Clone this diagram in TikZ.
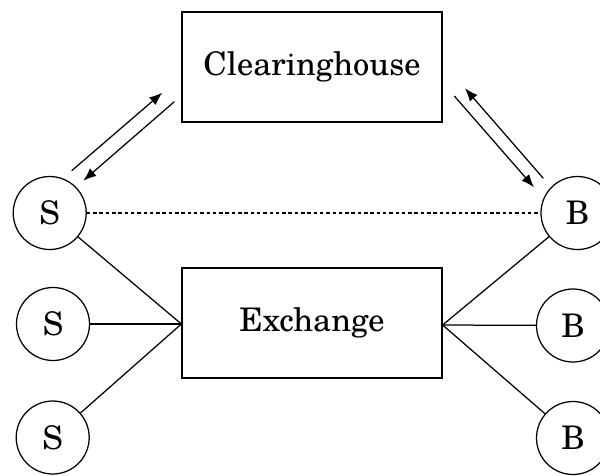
\documentclass[tikz,border=0pt]{standalone}
\usepackage{fontspec}
\setmainfont{TeX Gyre Schola}
\usetikzlibrary{arrows.meta}
\begin{document}
\begin{tikzpicture}[x=1pt,y=-1pt,
  lw/.style={line width=1.25pt},
  boxnode/.style={draw,lw,rectangle,minimum width=260pt,minimum height=110pt,inner sep=0pt,font=\fontsize{32.5}{40}\selectfont},
  party/.style={draw,lw,circle,minimum size=73pt,inner sep=0pt,font=\fontsize{32.5}{40}\selectfont},
  link/.style={lw},
  flow/.style={lw,-{Latex[length=13pt,width=10pt]}},
  peer/.style={lw,dash pattern=on 3.5pt off 2.8pt}]
\useasboundingbox (0,0) rectangle (600,475);
\node[boxnode] (CH) at (312,67) {Clearinghouse};
\node[boxnode] (EX) at (312,323) {Exchange};
\node[party] (S1) at (49.7,213) {S};
\node[party] (S2) at (53,324) {S};
\node[party] (S3) at (52.7,437.5) {S};
\node[party] (B1) at (577.5,213) {B};
\node[party] (B2) at (573,325.5) {B};
\node[party] (B3) at (573,438) {B};
\coordinate (EXw) at ([yshift=-1pt]EX.west);
\coordinate (EXe) at ([yshift=-2pt]EX.east);
\draw[peer] (S1) -- (B1);
\draw[link] (S1) -- (EXw);
\draw[link] (S2) -- (EXw);
\draw[link] (S3) -- (EXw);
\draw[link] (B1) -- (EXe);
\draw[link] (B2) -- (EXe);
\draw[link] (B3) -- (EXe);
\coordinate (l1s) at (71.7,170.7);
\coordinate (l1e) at (162.3,92.7);
\coordinate (l2s) at (174.3,101.7);
\coordinate (l2e) at (83.3,180.7);
\coordinate (r1s) at (543.3,178.3);
\coordinate (r1e) at (465,88.3);
\coordinate (r2s) at (454.3,96);
\coordinate (r2e) at (534,187.3);
\draw[flow] (l1s) -- (l1e);
\draw[flow] (l2s) -- (l2e);
\draw[flow] (r1s) -- (r1e);
\draw[flow] (r2s) -- (r2e);
\end{tikzpicture}
\end{document}
